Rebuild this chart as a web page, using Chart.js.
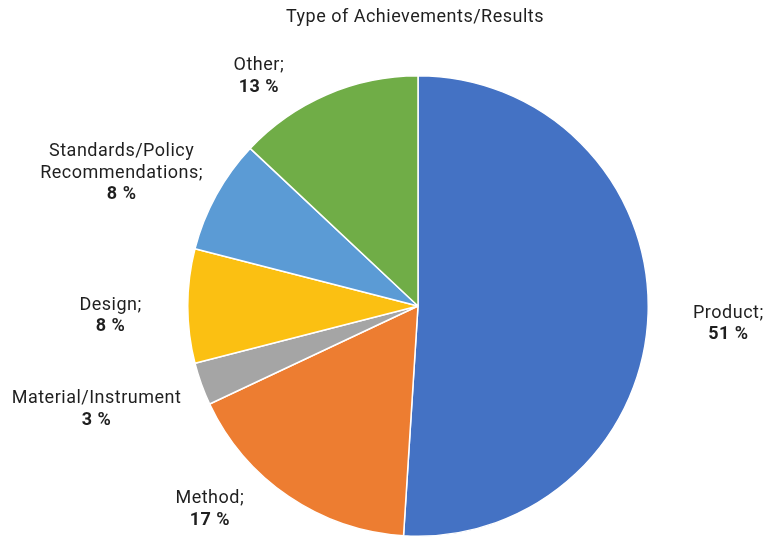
<!DOCTYPE html>
<html>
<head>
<meta charset="utf-8">
<script src="https://cdn.jsdelivr.net/npm/chart.js@4.4.1/dist/chart.umd.min.js"></script>
<style>
  html, body { margin: 0; padding: 0; background: #fff; }
  #wrap { width: 765px; height: 537px; position: relative; }
</style>
</head>
<body>
<div id="wrap"><canvas id="resultsChart"></canvas></div>
<script>
const categories = ['Product', 'Method', 'Material/Instrument', 'Design', 'Standards/Policy Recommendations', 'Other'];
const nameLines = [['Product;'], ['Method;'], ['Material/Instrument'], ['Design;'], ['Standards/Policy', 'Recommendations;'], ['Other;']];
const shares = [51, 17, 3, 8, 8, 13];
const colors = ['#4472C4', '#ED7D31', '#A5A5A5', '#FBC012', '#5B9BD5', '#70AD47'];

const FONT = 'Roboto, "Noto Sans", sans-serif';

// labels sit outside the pie, placed relative to its centre in units of the radius
const labelPlugin = {
  id: 'outerLabels',
  afterDraw(chart, args, opts) {
    const c = chart.ctx;
    const arc = chart.getDatasetMeta(0).data[0];
    const cx = arc.x, cy = arc.y, r = arc.outerRadius;

    c.save();
    c.fillStyle = '#1f1f1f';
    c.textAlign = 'center';
    c.textBaseline = 'alphabetic';
    c.letterSpacing = '0.5px';

    c.font = '18px ' + FONT;
    c.fillText('Type of Achievements/Results', 415, 22);

    const lh = 21.5;
    shares.forEach((v, i) => {
      const pos = opts.places[i];
      const x = cx + pos[0] * r;
      const y = cy + pos[1] * r;
      const lines = nameLines[i].map(t => ({ t, bold: false })).concat([{ t: v + ' %', bold: true }]);
      lines.forEach((ln, k) => {
        c.font = (ln.bold ? 'bold ' : '') + '18px ' + FONT;
        c.fillText(ln.t, x, y + (k - (lines.length - 1) / 2) * lh + 6);
      });
    });
    c.restore();
  }
};

new Chart(document.getElementById('resultsChart'), {
  type: 'pie',
  data: {
    labels: categories,
    datasets: [{
      data: shares,
      backgroundColor: colors,
      borderColor: '#ffffff',
      borderWidth: 1.5
    }]
  },
  options: {
    responsive: true,
    maintainAspectRatio: false,
    animation: false,
    layout: { padding: { top: 75, bottom: 0, left: 187, right: 116 } },
    plugins: {
      legend: { display: false },
      tooltip: { enabled: false },
      outerLabels: {
        places: [
          [1.348, 0.072],
          [-0.904, 0.878],
          [-1.396, 0.443],
          [-1.335, 0.037],
          [-1.287, -0.583],
          [-0.691, -1.004]
        ]
      }
    }
  },
  plugins: [labelPlugin]
});
</script>
</body>
</html>
